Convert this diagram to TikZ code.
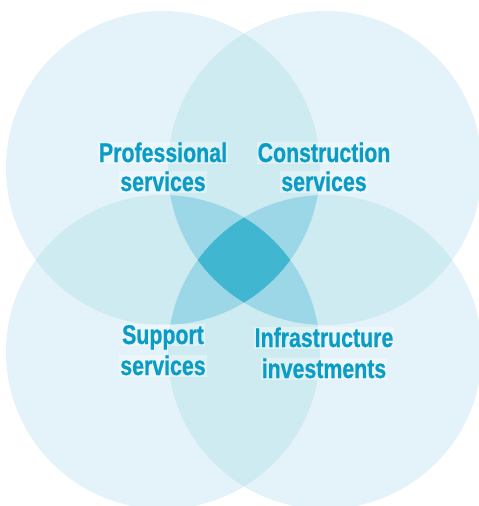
\documentclass[tikz,border=0pt]{standalone}
\usepackage{fontspec}
\newfontfamily\labfont[FakeStretch=0.79,BoldFeatures={FakeBold=0.6}]{Liberation Sans}
\definecolor{cone}{HTML}{E3F3F9}
\definecolor{ctwo}{HTML}{CDEBF1}
\definecolor{cthree}{HTML}{9BD7E6}
\definecolor{cfour}{HTML}{41B6D0}
\definecolor{ctext}{HTML}{0A9CC4}
\newcommand\cirA{(163,168) circle[radius=157pt]}
\newcommand\cirB{(325,168) circle[radius=157pt]}
\newcommand\cirC{(163,352) circle[radius=157pt]}
\newcommand\cirD{(325,352) circle[radius=157pt]}
\tikzset{
  lab/.style={anchor=base, font=\labfont\bfseries\fontsize{27}{30}\selectfont,
    text=ctext, fill=white, fill opacity=0.35, text opacity=1,
    text height=20pt, text depth=1.5pt, inner xsep=1pt, inner ysep=0pt}
}
\begin{document}
\begin{tikzpicture}[x=1pt,y=-1pt]
\useasboundingbox (0,0) rectangle (479,506);
\begin{scope}
\clip (0,0) rectangle (479,506);
% single
\fill[cone] \cirA; \fill[cone] \cirB; \fill[cone] \cirC; \fill[cone] \cirD;
% pairs
\begin{scope}\clip \cirA; \fill[ctwo] \cirB; \fill[ctwo] \cirC; \fill[ctwo] \cirD;\end{scope}
\begin{scope}\clip \cirB; \fill[ctwo] \cirC; \fill[ctwo] \cirD;\end{scope}
\begin{scope}\clip \cirC; \fill[ctwo] \cirD;\end{scope}
% triples
\begin{scope}\clip \cirA; \clip \cirB; \fill[cthree] \cirC; \fill[cthree] \cirD;\end{scope}
\begin{scope}\clip \cirA; \clip \cirC; \fill[cthree] \cirD;\end{scope}
\begin{scope}\clip \cirB; \clip \cirC; \fill[cthree] \cirD;\end{scope}
% quad
\begin{scope}\clip \cirA; \clip \cirB; \clip \cirC; \fill[cfour] \cirD;\end{scope}
\end{scope}
% labels
\node[lab] (prof1) at (163,162) {Professional};
\node[lab] (prof2) at (163,191) {services};
\node[lab] (cons1) at (324,162) {Construction};
\node[lab] (cons2) at (324,191) {services};
\node[lab] (supp1) at (163,344) {Support};
\node[lab] (supp2) at (163,375) {services};
\node[lab] (infr1) at (324,347) {Infrastructure};
\node[lab] (infr2) at (324,378) {investments};
\end{tikzpicture}
\end{document}
